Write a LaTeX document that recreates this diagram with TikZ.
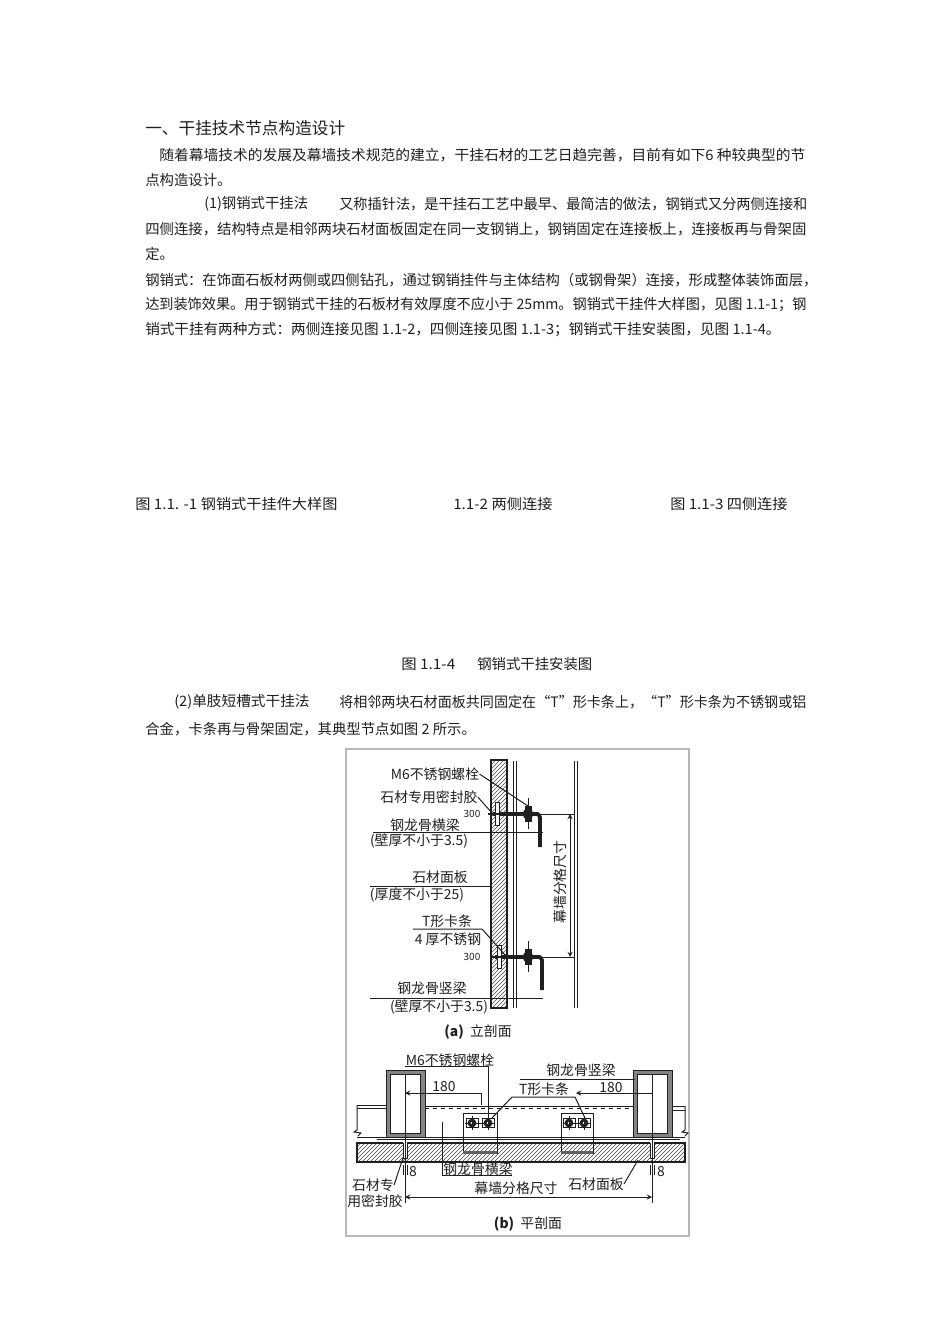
\documentclass[tikz,border=0pt]{standalone}
\usepackage{fontspec}
\setmainfont{Noto Sans CJK SC}
\usetikzlibrary{patterns,arrows}
\definecolor{inkc}{gray}{0.12}
\definecolor{framec}{gray}{0.72}
\tikzstyle{bodyline} = [anchor=west,inner sep=0pt,text=inkc,font=\fontsize{10.78}{11}\selectfont]
\tikzstyle{headline} = [anchor=west,inner sep=0pt,text=inkc,font=\fontsize{12.5}{13}\selectfont]
\tikzstyle{figlabel} = [inner sep=0pt,text=inkc,font=\fontsize{10.4}{11}\selectfont]
\tikzstyle{tinylabel} = [inner sep=0pt,text=inkc,font=\fontsize{7.5}{8}\selectfont]
\tikzstyle{figline} = [inkc,line width=0.75pt]
\tikzstyle{stone} = [draw=inkc,line width=0.8pt,pattern=north east lines,pattern color=inkc!80]
\tikzstyle{dimarrow} = [figline,>=stealth,<->]
\tikzset{widen/.style={xscale=#1,transform shape}}
\newcommand{\sectionbolt}[2][]{
 \begin{scope}[shift={(#2)},#1]
  \draw[figline] (0,-16) -- (0,15); % shank
  \fill[inkc] (0,0) circle (5.5);
  \fill[inkc] (-3.5,-8) rectangle (3.5,8);
 \end{scope}
}
\newcommand{\tbracket}[2][]{
 \begin{scope}[shift={(#2)},#1]
  \draw[inkc,line width=2.8pt,line join=round] (-33,0) -- (12,0) -- (14,3) -- (14,33); % angle
  \draw[figline,fill=white] (-31,-12) rectangle (-27,11); % T plate
  \draw[inkc,line width=1.5pt] (-38,0) -- (-25,0);
 \end{scope}
}
\newcommand{\planbolt}[2][]{
 \begin{scope}[shift={(#2)},#1]
  \draw[figline] (-6,-4.5) rectangle (6,4.5);
  \fill[inkc] (0,0) circle (4.4);
  \fill[white] (0,0) circle (1.4);
  \draw[figline] (0,-7) -- (0,7);
 \end{scope}
}
\newcommand{\plantube}[2][]{
 \begin{scope}[shift={(#2)},#1]
  \draw[inkc,line width=0.7pt,fill=inkc!55] (0,0) rectangle (39,67);
  \draw[figline,fill=white] (4.5,4) rectangle (34.5,63);
 \end{scope}
}
\begin{document}
\begin{tikzpicture}[x=0.75pt,y=-0.75pt]
    \useasboundingbox (0,0) rectangle (950,1344);

    % page text
    \node[headline] (head) at (145,128) {一、干挂技术节点构造设计};
    \node[bodyline,widen=1.027] (para1a) at (159,155) {随着幕墙技术的发展及幕墙技术规范的建立，干挂石材的工艺日趋完善，目前有如下6 种较典型的节};
    \node[bodyline] (para1b) at (145,180) {点构造设计。};
    \node[bodyline] (para2a) at (204,204) {(1)钢销式干挂法};
    \node[bodyline,widen=0.987] (para2b) at (339,204) {又称插针法，是干挂石工艺中最早、最简洁的做法，钢销式又分两侧连接和};
    \node[bodyline] (para2c) at (145,229) {四侧连接，结构特点是相邻两块石材面板固定在同一支钢销上，钢销固定在连接板上，连接板再与骨架固};
    \node[bodyline] (para2d) at (145,254) {定。};
    \node[bodyline,widen=0.995] (para3a) at (145,280) {钢销式：在饰面石板材两侧或四侧钻孔，通过钢销挂件与主体结构（或钢骨架）连接，形成整体装饰面层，};
    \node[bodyline,widen=0.985] (para3b) at (145,305) {达到装饰效果。用于钢销式干挂的石板材有效厚度不应小于 25mm。钢销式干挂件大样图，见图 1.1-1；钢};
    \node[bodyline,widen=1.015] (para3c) at (145,330) {销式干挂有两种方式：两侧连接见图 1.1-2，四侧连接见图 1.1-3；钢销式干挂安装图，见图 1.1-4。};
    \node[bodyline,widen=1.057] (capa) at (135,504) {图 1.1. -1 钢销式干挂件大样图};
    \node[bodyline,widen=1.06] (capb) at (453,504) {1.1-2 两侧连接};
    \node[bodyline,widen=1.054] (capc) at (670,504) {图 1.1-3 四侧连接};
    \node[bodyline,widen=1.07] (capd) at (401,664) {图 1.1-4};
    \node[bodyline] (cape) at (477,664) {钢销式干挂安装图};
    \node[bodyline,widen=1.02] (para4a) at (174,702) {(2)单肢短槽式干挂法};
    \node[bodyline,widen=0.979] (para4b) at (339,702) {将相邻两块石材面板共同固定在“T”形卡条上，“T”形卡条为不锈钢或铝};
    \node[bodyline] (para4c) at (145,729) {合金，卡条再与骨架固定，其典型节点如图 2 所示。};

    % picture frame
    \draw[framec,line width=1pt] (346,749) rectangle (689,1236);

    % (a) elevation
    \draw[stone] (491,760) rectangle (507,1008);
    \draw[figline] (513,761) -- (513,1008);
    \draw[figline] (516,761) -- (516,1008);
    \draw[figline] (574,761) -- (574,1008);
    \draw[figline] (577,761) -- (577,1008);
    \tbracket{526,814}
    \tbracket{528,957}
    \sectionbolt{528,814}
    \sectionbolt{528,957}
    \coordinate (dimtop) at (570,814);
    \coordinate (dimbot) at (570,957);
    \draw[figline] (491,814) -- (575,814);
    \draw[figline] (491,957) -- (575,957);
    \draw[dimarrow] (dimtop) -- (dimbot);
    \node[figlabel,rotate=90] (pitcha) at (560,882) {幕墙分格尺寸};

    \node[figlabel] (m6a) at (435,774) {M6不锈钢螺栓};
    \node[figlabel] (seala) at (429,797) {石材专用密封胶};
    \node[tinylabel] (sizeup) at (472,814) {300};
    \node[tinylabel] (sizedn) at (472,957) {300};
    \node[figlabel] (beama) at (425,825) {钢龙骨横梁};
    \node[figlabel] (beamb) at (419,841) {(壁厚不小于3.5)};
    \node[figlabel] (panela) at (440,877) {石材面板};
    \node[figlabel] (panelb) at (417,895) {(厚度不小于25)};
    \node[figlabel] (clipa) at (447,921) {T形卡条};
    \node[figlabel] (clipb) at (448,939) {4 厚不锈钢};
    \node[figlabel] (postb) at (432,988) {钢龙骨竖梁};
    \node[figlabel] (postc) at (439,1007) {(壁厚不小于3.5)};
    \node[figlabel] (capfiga) at (478,1032) {\textbf{(a)}\ \ 立剖面};

    \coordinate (m6end) at (528,806);
    \coordinate (sealend) at (492,813);
    \coordinate (clipend) at (505,955);
    \draw[figline] (m6a.east) -- (m6end);
    \draw[figline] (seala.east) -- (sealend);
    \draw[figline] (373,832) -- (543,832);
    \draw[figline] (370,886) -- (491,886);
    \draw[figline] (413,929) -- (482,929) -- (clipend);
    \draw[figline] (370,998) -- (543,998);

    % (b) plan section
    \draw[stone] (357,1143) rectangle (685,1162);
    \fill[white] (403,1142) rectangle (407,1158);
    \fill[white] (650,1142) rectangle (654,1158);
    \draw[figline] (403,1143) -- (403,1158) -- (407,1158) -- (407,1143);
    \draw[figline] (650,1143) -- (650,1158) -- (654,1158) -- (654,1143);
    \draw[figline] (357,1137) -- (685,1137);
    \draw[figline] (377,1139) -- (680,1139);

    \draw[figline] (425,1106) -- (633,1106);
    \draw[figline,dashed] (425,1108.5) -- (633,1108.5);
    \draw[figline] (357,1105) -- (386,1105);
    \draw[figline] (357,1108) -- (386,1108);
    \draw[figline] (357,1105) -- (357,1130) -- (354,1132) -- (361,1133) -- (358,1136);
    \draw[figline] (672,1106) -- (685,1106);
    \draw[figline] (672,1110) -- (685,1110);
    \draw[figline] (685,1106) -- (685,1130) -- (682,1132) -- (688,1133) -- (685,1136);

    \plantube{386,1070}
    \plantube{633,1070}
    \draw[figline] (463,1113) rectangle (497,1153);
    \draw[figline] (561,1113) rectangle (593,1153);
    \fill[inkc!70] (463,1151) rectangle (497,1154);
    \fill[inkc!70] (561,1151) rectangle (593,1154);
    \draw[figline] (465,1123) -- (495,1123);
    \draw[figline] (563,1123) -- (591,1123);
    \planbolt{472,1123}
    \planbolt{488,1123}
    \planbolt{569,1123}
    \planbolt{584,1123}

    \draw[figline] (405,1075) -- (405,1203);
    \draw[figline] (652,1075) -- (652,1203);
    \draw[figline] (403,1165) -- (403,1175);
    \draw[figline] (407,1165) -- (407,1175);
    \draw[figline] (650,1165) -- (650,1175);
    \draw[figline] (654,1165) -- (654,1175);
    \coordinate (dimla) at (405,1093);
    \coordinate (dimlb) at (481,1093);
    \coordinate (dimrb) at (576,1093);
    \coordinate (dimra) at (652,1093);
    \draw[figline,>=stealth,<-] (dimla) -- (dimlb) -- (481,1105);
    \draw[figline,>=stealth,<-] (dimrb) -- (dimra);
    \draw[dimarrow] (405,1197) -- (652,1197);

    \node[figlabel] (size180a) at (444,1087) {180};
    \node[figlabel] (size180b) at (611,1088) {180};
    \node[figlabel] (m6b) at (450,1060) {M6不锈钢螺栓};
    \node[figlabel] (clipc) at (544,1089) {T形卡条};
    \node[figlabel] (postd) at (581,1070) {钢龙骨竖梁};
    \node[figlabel] (beamc) at (478,1169) {钢龙骨横梁};
    \node[figlabel] (panelc) at (596,1184) {石材面板};
    \node[figlabel] (pitchb) at (516,1188) {幕墙分格尺寸};
    \node[figlabel] (seald) at (373,1185) {石材专};
    \node[figlabel] (seale) at (375,1201) {用密封胶};
    \node[figlabel] (jointa) at (413,1172) {8};
    \node[figlabel] (jointb) at (661,1172) {8};
    \node[figlabel] (capfigb) at (528,1224) {\textbf{(b)}\ \ 平剖面};

    \draw[figline] (405,1066) -- (488,1066) -- (488,1123);
    \draw[figline] (492,1118) -- (512,1097) -- (575,1097) -- (585,1118);
    \draw[figline] (520,1079) -- (635,1079);
    \draw[figline] (442,1122) -- (442,1175) -- (512,1175);
    \draw[figline] (panelc.east) -- (638,1160);
    \draw[figline] (seald.east) -- (403,1158);
   \end{tikzpicture}
\end{document}
